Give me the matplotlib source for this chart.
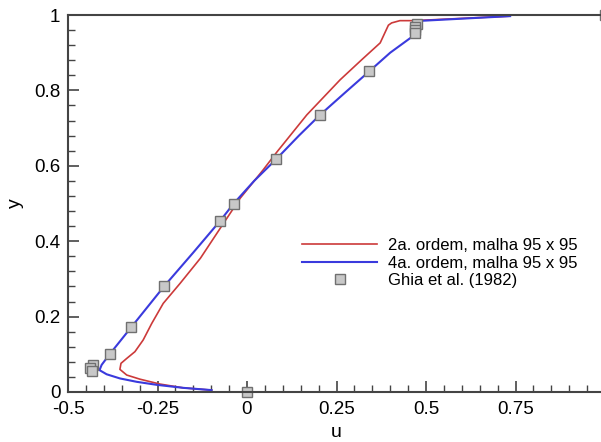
import matplotlib
matplotlib.use("Agg")
import matplotlib.pyplot as plt
from matplotlib.ticker import MultipleLocator

plt.rcParams['font.family'] = ['Liberation Sans', 'DejaVu Sans']

# 2a. ordem (red)
u_2a = [-0.099, -0.178, -0.243, -0.299, -0.336, -0.355, -0.352, -0.336, -0.313,
        -0.290, -0.266, -0.234, -0.187, -0.130, -0.075, -0.019, 0.045, 0.083,
        0.167, 0.260, 0.320, 0.372, 0.395, 0.404, 0.427, 0.464, 0.735]
y_2a = [0.005, 0.011, 0.021, 0.034, 0.045, 0.060, 0.076, 0.089, 0.107,
        0.138, 0.182, 0.235, 0.288, 0.355, 0.434, 0.514, 0.589, 0.636,
        0.735, 0.828, 0.881, 0.926, 0.973, 0.979, 0.985, 0.985, 0.997]

# 4a. ordem (blue)
u_4a = [-0.099, -0.178, -0.252, -0.308, -0.355, -0.392, -0.412, -0.406, -0.383,
        -0.324, -0.231, -0.150, -0.075, -0.038, 0.020, 0.081, 0.145, 0.204,
        0.275, 0.342, 0.400, 0.465, 0.475, 0.735]
y_4a = [0.005, 0.011, 0.019, 0.027, 0.036, 0.047, 0.058, 0.072, 0.101,
        0.171, 0.281, 0.370, 0.454, 0.499, 0.560, 0.617, 0.680, 0.735,
        0.795, 0.851, 0.900, 0.945, 0.984, 0.997]

# Ghia et al. (1982)
u_ghia = [1.0, 0.475, 0.470, 0.470, 0.470, 0.342, 0.204, 0.081, -0.036, -0.075,
          -0.231, -0.324, -0.383, -0.430, -0.438, -0.432, 0.0]
y_ghia = [1.0, 0.9766, 0.9688, 0.9609, 0.9531, 0.8516, 0.7344, 0.6172, 0.5000,
          0.4531, 0.2813, 0.1719, 0.1016, 0.0703, 0.0625, 0.0547, 0.0]

fig = plt.figure(figsize=(6.01, 4.42), dpi=100)
ax = fig.add_axes([68 / 601, 50 / 442, 537 / 601, 377 / 442])
ax.patch.set_visible(False)

ax.plot(u_2a, y_2a, color='#cc3a3a', lw=1.2, label='2a. ordem, malha 95 x 95')
ax.plot(u_4a, y_4a, color='#3a3add', lw=1.5, label='4a. ordem, malha 95 x 95')
ax.plot(u_ghia, y_ghia, ls='none', marker='s', ms=6.5, mfc='#c8c8c8',
        mec='#707070', mew=1.0, clip_on=False, label='Ghia et al. (1982)')

ax.set_xlim(-0.5, 1.0)
ax.set_ylim(0, 1)
ax.set_xticks([-0.5, -0.25, 0, 0.25, 0.5, 0.75])
ax.set_xticklabels(['-0.5', '-0.25', '0', '0.25', '0.5', '0.75'])
ax.set_yticks([0, 0.2, 0.4, 0.6, 0.8, 1.0])
ax.set_yticklabels(['0', '0.2', '0.4', '0.6', '0.8', '1'])
ax.xaxis.set_minor_locator(MultipleLocator(0.05))
ax.yaxis.set_minor_locator(MultipleLocator(0.04))
ax.tick_params(which='both', direction='in', top=False, right=False,
               color='#444444', labelsize=13.5)
ax.tick_params(axis='x', which='both', pad=6.5)
ax.tick_params(axis='y', which='both', pad=5.5)
ax.tick_params(which='major', length=8, width=1.2)
ax.tick_params(which='minor', length=5, width=1.0)
for s in ax.spines.values():
    s.set_color('#444444')
    s.set_linewidth(1.5)
ax.spines['right'].set_visible(False)

ax.set_xlabel('u', fontsize=14, labelpad=4)
ax.set_ylabel('y', fontsize=14, labelpad=7)

ax.legend(loc='center left', bbox_to_anchor=(302 / 601, (442 - 263) / 442),
          bbox_transform=fig.transFigure, frameon=False, fontsize=12,
          handlelength=4.5, handletextpad=0.65, labelspacing=0.15,
          borderpad=0, borderaxespad=0)

fig.savefig('out.png', dpi=100)
